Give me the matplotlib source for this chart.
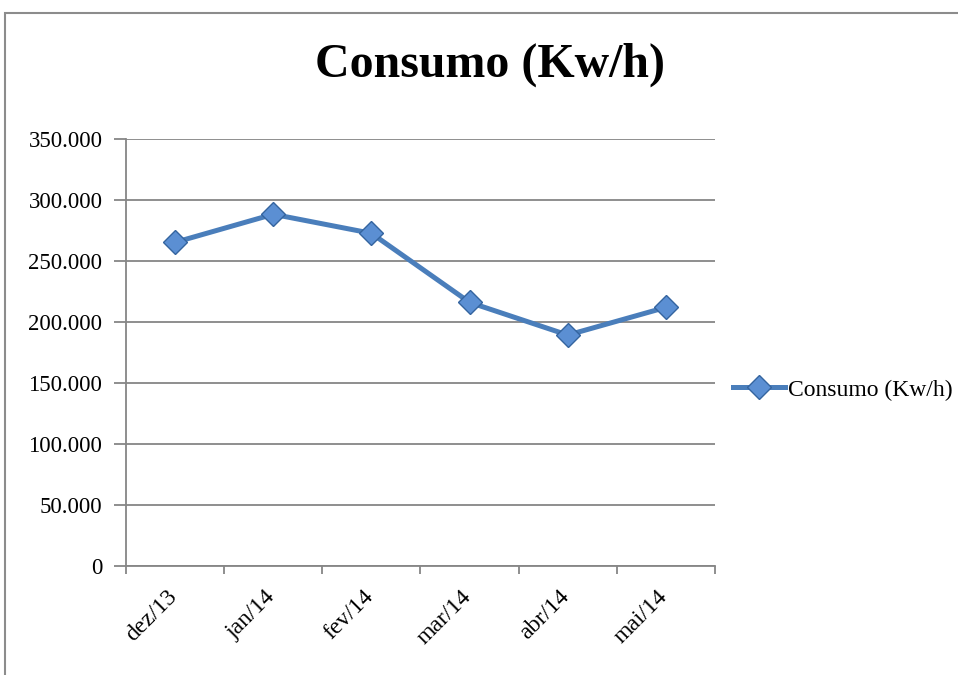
import matplotlib.pyplot as plt
import matplotlib.transforms as mtransforms
from matplotlib.patches import Rectangle
import numpy as np

# monthly consumption
meses = ['dez/13', 'jan/14', 'fev/14', 'mar/14', 'abr/14', 'mai/14']
consumo = [265300, 288300, 272700, 216100, 189300, 212000]
yticks = [0, 50000, 100000, 150000, 200000, 250000, 300000, 350000]
ylabels = ['0', '50.000', '100.000', '150.000', '200.000', '250.000', '300.000', '350.000']

plt.rcParams['font.family'] = ['Liberation Serif', 'DejaVu Serif']

fig = plt.figure(figsize=(9.58, 6.75), dpi=100)
ax = fig.add_axes([126/958, 1 - 566/675, (715 - 126)/958, (566 - 139)/675])

# chart area border
fig.patches.append(Rectangle((5/958, -0.1), 1.2, 0.1 + 1 - 13/675, transform=fig.transFigure,
                             fill=False, edgecolor='#8c8c8c', linewidth=1.5))

x = np.arange(len(meses))
ax.plot(x, consumo, color='#4a7ebb', linewidth=3.6, marker='D', markersize=12,
        markerfacecolor='#5b8fd3', markeredgecolor='#34649f', markeredgewidth=1,
        label='Consumo (Kw/h)', zorder=3)

ax.set_xlim(-0.5, len(meses) - 0.5)
ax.set_ylim(0, 350000)
ax.set_yticks(yticks)
ax.set_yticklabels(ylabels, fontsize=16.5)
ax.yaxis.grid(True, color='#868686', linewidth=1.3)
ax.set_axisbelow(True)

# category labels, rotated, ending just right of each category centre
ax.set_xticks([])
ax.set_xticks(np.arange(-0.5, len(meses)), minor=True)
ax.tick_params(axis='x', which='minor', length=6, color='#868686', width=1.3, labelbottom=False)
off = mtransforms.ScaledTranslation(-9/100, -20/100, fig.dpi_scale_trans)
for xi, m in zip(x, meses):
    ax.text(xi, 0, m, transform=ax.get_xaxis_transform() + off, fontsize=17,
            rotation=45, ha='right', va='top', rotation_mode='anchor')

ax.tick_params(axis='y', length=9, color='#868686', width=1.3, pad=8)

for s in ['top', 'right']:
    ax.spines[s].set_visible(False)
for s in ['left', 'bottom']:
    ax.spines[s].set_color('#868686')
    ax.spines[s].set_linewidth(1.3)

fig.text(490/958, 1 - 65/675, 'Consumo (Kw/h)', fontsize=34.5, fontweight='bold',
         ha='center', va='center')

fig.legend(loc='center left', bbox_to_anchor=(733/958, 1 - 390/675), frameon=False,
           fontsize=17, handlelength=2.2, handletextpad=0.15, borderaxespad=0, borderpad=0)

fig.savefig('out.png', dpi=100)
